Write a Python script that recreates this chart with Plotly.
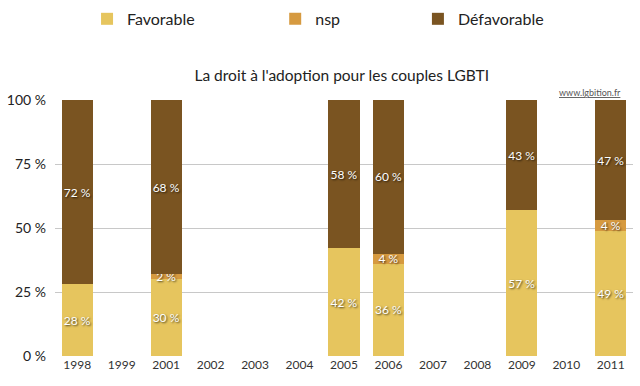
import plotly.graph_objects as go

years = ["1998", "1999", "2001", "2002", "2003", "2004", "2005", "2006",
         "2007", "2008", "2009", "2010", "2011"]
favorable = [28, None, 30, None, None, None, 42, 36, None, None, 57, None, 49]
nsp = [None, None, 2, None, None, None, None, 4, None, None, None, None, 4]
defavorable = [72, None, 68, None, None, None, 58, 60, None, None, 43, None, 47]
y_ticks = [0, 25, 50, 75, 100]
y_tick_labels = ["0 %", "25 %", "50 %", "75 %", "100 %"]

FONT = "Lato, 'Open Sans', sans-serif"
series = [
    ("Favorable", favorable, "#E6C55E", "legend", 0.136),
    ("nsp", nsp, "#D69A40", "legend2", 0.430),
    ("Défavorable", defavorable, "#7A5421", "legend3", 0.653),
]

fig = go.Figure()
for name, vals, color, leg, _ in series:
    fig.add_trace(go.Bar(
        x=years, y=vals, name=name, legend=leg,
        marker=dict(color=color, line=dict(width=0)),
        width=0.7,
        texttemplate="%{y} %",
        textposition="inside",
        insidetextanchor="middle",
        textangle=0,
        constraintext="none",
        textfont=dict(family=FONT, size=12, color="white",
                      shadow="1px 1px 2px rgba(0,0,0,0.7)"),
        hoverinfo="skip",
    ))

leg_common = dict(orientation="h", xanchor="left", yanchor="middle",
                  yref="container", font=dict(family=FONT, size=16, color="#222"),
                  bgcolor="rgba(0,0,0,0)")
layout_legends = {}
for name, vals, color, leg, lx in series:
    d = dict(leg_common)
    d["x"] = lx
    d["xref"] = "container"
    d["y"] = 0.951
    layout_legends[leg] = d

fig.update_layout(
    width=640, height=386,
    barmode="stack",
    plot_bgcolor="white", paper_bgcolor="white",
    margin=dict(l=53, r=7, t=100, b=30),
    showlegend=True,
    title=dict(text="La droit à l'adoption pour les couples LGBTI",
               x=0.534, xanchor="center", y=0.805, yanchor="middle",
               font=dict(family=FONT, size=15.5, color="#222")),
    xaxis=dict(type="category", categoryorder="array", categoryarray=years,
               showgrid=False, showline=False, ticks="",
               tickfont=dict(family=FONT, size=12, color="#333")),
    yaxis=dict(range=[0, 100], tickvals=y_ticks, ticktext=y_tick_labels,
               showgrid=True, gridcolor="#C8C8C8", gridwidth=1,
               zeroline=False, showline=False, ticks="", ticklabelstandoff=8,
               tickfont=dict(family=FONT, size=14, color="#222")),
    annotations=[dict(text="<u>www.lgbition.fr</u>", xref="paper", yref="paper",
                      x=0.983, y=1.0, xanchor="right", yanchor="bottom",
                      showarrow=False,
                      font=dict(family=FONT, size=9, color="#555"))],
    **layout_legends,
)

fig.write_html("out.html", config={"displayModeBar": False},
               post_script="document.body.style.margin='0';document.body.style.overflow='hidden';")
